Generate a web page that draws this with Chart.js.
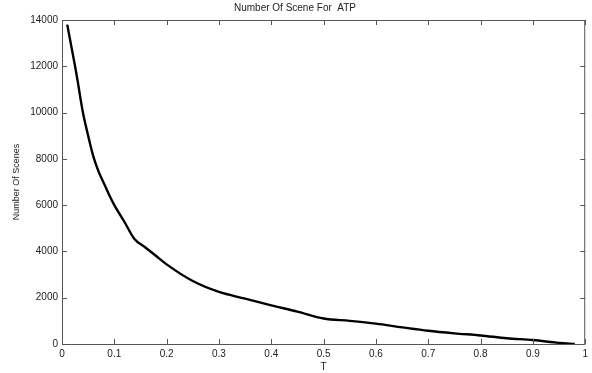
<!DOCTYPE html>
<html>
<head>
<meta charset="utf-8">
<script src="https://cdn.jsdelivr.net/npm/chart.js@4/dist/chart.umd.min.js"></script>
<style>
html,body{margin:0;padding:0;background:#fff;}
#wrap{width:592px;height:373px;position:relative;}
</style>
</head>
<body>
<div id="wrap"><canvas id="c" width="592" height="373"></canvas></div>
<script>
const chartTitle = "Number Of Scene For  ATP";
const xAxisLabel = "T";
const yAxisLabel = "Number Of Scenes";
const tValues = [0.01,0.02,0.025,0.03,0.04,0.05,0.06,0.07,0.08,0.09,0.1,0.12,0.138,0.16,0.18,0.2,0.25,0.3,0.35,0.4,0.45,0.5,0.55,0.6,0.65,0.7,0.75,0.8,0.85,0.9,0.95,0.98];
const sceneCounts = [13800,12600,12000,11350,10000,9000,8100,7450,6950,6450,6000,5250,4550,4160,3800,3440,2720,2250,1960,1670,1400,1100,1000,880,720,570,460,370,250,170,50,0];
const xTickValues = [0,0.1,0.2,0.3,0.4,0.5,0.6,0.7,0.8,0.9,1];
const yTickValues = [0,2000,4000,6000,8000,10000,12000,14000];

const axisColor = '#555';
const fontFam = '"Liberation Sans", Arial, sans-serif';

const boxTicks = {
  id: 'boxTicks',
  afterDraw(chart) {
    const {ctx, chartArea: a, scales: {x, y}} = chart;
    ctx.save();
    ctx.strokeStyle = axisColor;
    ctx.lineWidth = 1;
    ctx.strokeRect(a.left + 0.5, a.top + 0.5, a.right - a.left - 1, a.bottom - a.top);
    const L = 5;
    ctx.beginPath();
    xTickValues.forEach(v => {
      const px = Math.round(x.getPixelForValue(v)) + 0.5;
      ctx.moveTo(px, a.bottom); ctx.lineTo(px, a.bottom - L);
      ctx.moveTo(px, a.top); ctx.lineTo(px, a.top + L);
    });
    yTickValues.forEach(v => {
      const py = Math.round(y.getPixelForValue(v)) + 0.5;
      ctx.moveTo(a.left, py); ctx.lineTo(a.left + L, py);
      ctx.moveTo(a.right, py); ctx.lineTo(a.right - L, py);
    });
    ctx.stroke();
    ctx.restore();
  }
};

new Chart(document.getElementById('c'), {
  type: 'line',
  data: {
    datasets: [{
      data: tValues.map((t, i) => ({x: t, y: sceneCounts[i]})),
      borderColor: '#000',
      borderWidth: 2.4,
      pointRadius: 0,
      cubicInterpolationMode: 'monotone',
      fill: false
    }]
  },
  options: {
    responsive: false,
    animation: false,
    devicePixelRatio: 1,
    layout: {padding: {left: 0, right: 2, top: 0, bottom: 0}},
    plugins: {
      legend: {display: false},
      tooltip: {enabled: false},
      title: {
        display: true,
        text: chartTitle,
        color: '#222',
        font: {family: fontFam, size: 10, weight: 'normal'},
        padding: {top: 2, bottom: 6}
      }
    },
    scales: {
      x: {
        type: 'linear',
        min: 0, max: 1,
        afterBuildTicks: s => { s.ticks = xTickValues.map(v => ({value: v})); },
        afterFit: s => { s.height = 29; },
        grid: {display: false, drawTicks: false},
        border: {display: false},
        ticks: {
          color: '#222',
          padding: 4,
          maxRotation: 0,
          font: {family: fontFam, size: 10},
          callback: v => String(v)
        },
        title: {
          display: true, text: xAxisLabel, color: '#222',
          font: {family: fontFam, size: 10}, padding: {top: 0, bottom: 0}
        }
      },
      y: {
        type: 'linear',
        min: 0, max: 14000,
        afterBuildTicks: s => { s.ticks = yTickValues.map(v => ({value: v})); },
        afterFit: s => { s.width = 62; },
        grid: {display: false, drawTicks: false},
        border: {display: false},
        ticks: {
          color: '#222',
          padding: 4,
          font: {family: fontFam, size: 10},
          callback: v => String(v)
        },
        title: {
          display: true, text: yAxisLabel, color: '#222',
          font: {family: fontFam, size: 9}, padding: {top: 11, bottom: 0}
        }
      }
    }
  },
  plugins: [boxTicks]
});
</script>
</body>
</html>
